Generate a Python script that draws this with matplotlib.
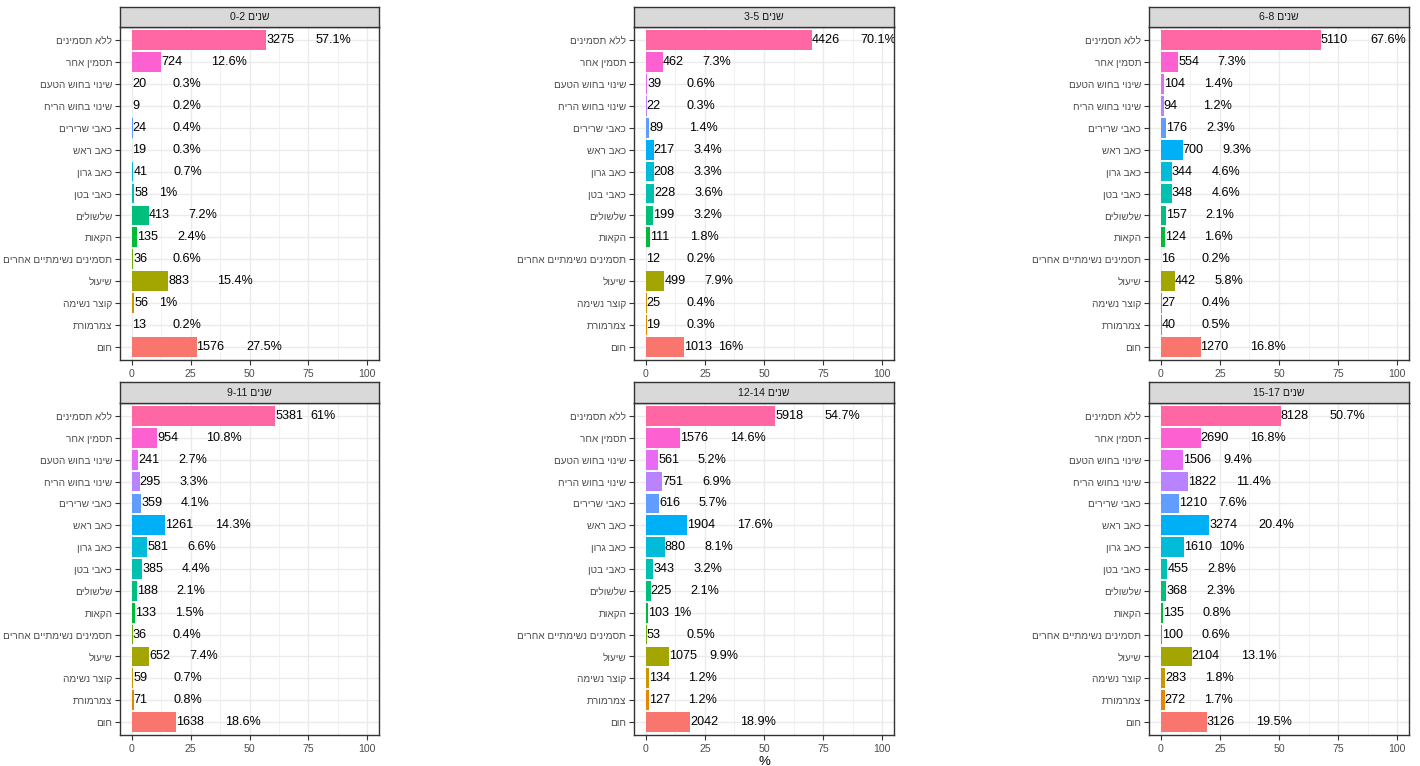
import matplotlib
matplotlib.use("Agg")
import matplotlib.pyplot as plt
from matplotlib.transforms import offset_copy

plt.rcParams['font.family'] = ['Liberation Sans', 'DejaVu Sans']

# ---- data ----
categories = ["ללא תסמינים", "תסמין אחר", "שינוי בחוש הטעם", "שינוי בחוש הריח",
              "כאבי שרירים", "כאב ראש", "כאב גרון", "כאבי בטן", "שלשולים", "הקאות",
              "תסמינים נשימתיים אחרים", "שיעול", "קוצר נשימה", "צמרמורת", "חום"]
age_groups = ["0-2", "3-5", "6-8", "9-11", "12-14", "15-17"]
age_word = "שנים"

counts_0_2 = [3275, 724, 20, 9, 24, 19, 41, 58, 413, 135, 36, 883, 56, 13, 1576]
pct_0_2 = [57.1, 12.6, 0.3, 0.2, 0.4, 0.3, 0.7, 1, 7.2, 2.4, 0.6, 15.4, 1, 0.2, 27.5]
counts_3_5 = [4426, 462, 39, 22, 89, 217, 208, 228, 199, 111, 12, 499, 25, 19, 1013]
pct_3_5 = [70.1, 7.3, 0.6, 0.3, 1.4, 3.4, 3.3, 3.6, 3.2, 1.8, 0.2, 7.9, 0.4, 0.3, 16]
counts_6_8 = [5110, 554, 104, 94, 176, 700, 344, 348, 157, 124, 16, 442, 27, 40, 1270]
pct_6_8 = [67.6, 7.3, 1.4, 1.2, 2.3, 9.3, 4.6, 4.6, 2.1, 1.6, 0.2, 5.8, 0.4, 0.5, 16.8]
counts_9_11 = [5381, 954, 241, 295, 359, 1261, 581, 385, 188, 133, 36, 652, 59, 71, 1638]
pct_9_11 = [61, 10.8, 2.7, 3.3, 4.1, 14.3, 6.6, 4.4, 2.1, 1.5, 0.4, 7.4, 0.7, 0.8, 18.6]
counts_12_14 = [5918, 1576, 561, 751, 616, 1904, 880, 343, 225, 103, 53, 1075, 134, 127, 2042]
pct_12_14 = [54.7, 14.6, 5.2, 6.9, 5.7, 17.6, 8.1, 3.2, 2.1, 1, 0.5, 9.9, 1.2, 1.2, 18.9]
counts_15_17 = [8128, 2690, 1506, 1822, 1210, 3274, 1610, 455, 368, 135, 100, 2104, 283, 272, 3126]
pct_15_17 = [50.7, 16.8, 9.4, 11.4, 7.6, 20.4, 10, 2.8, 2.3, 0.8, 0.6, 13.1, 1.8, 1.7, 19.5]

all_counts = [counts_0_2, counts_3_5, counts_6_8, counts_9_11, counts_12_14, counts_15_17]
all_pcts = [pct_0_2, pct_3_5, pct_6_8, pct_9_11, pct_12_14, pct_15_17]

# ggplot hue palette (top -> bottom order of categories)
colors = ["#FF67A4", "#FD61D1", "#E76BF3", "#B983FF", "#619CFF", "#00B0F6", "#00BCD8",
          "#00C0AF", "#00BF7D", "#00BA38", "#6BB100", "#A3A500", "#C99800", "#E58700", "#F8766D"]

x_ticks = [0, 25, 50, 75, 100]
x_minor = [12.5, 37.5, 62.5, 87.5]


def vis(s):
    """visual order for RTL Hebrew text"""
    return s[::-1]


W, H = 1420, 766
fig = plt.figure(figsize=(W / 100, H / 100), dpi=100)

col_left = [120, 634, 1149]
col_right = [379, 894, 1409]
row_panel = [(27, 360), (403, 735)]
row_strip = [(7, 27), (382, 403)]

n = len(categories)
ypos = list(range(n, 0, -1))

pct_texts = []
for k in range(6):
    r, c = divmod(k, 3)
    x0, x1 = col_left[c], col_right[c]
    yt, yb = row_panel[r]
    ax = fig.add_axes([x0 / W, 1 - yb / H, (x1 - x0) / W, (yb - yt) / H])
    ax.set_xlim(-5, 105)
    ax.set_ylim(0.4, n + 0.6)
    ax.set_xticks(x_ticks)
    ax.set_xticks(x_minor, minor=True)
    ax.set_yticks(ypos)
    ax.set_yticklabels([vis(s) for s in categories])
    ax.grid(which='major', color='#EBEBEB', lw=1.0)
    ax.grid(which='minor', axis='x', color='#EBEBEB', lw=0.5)
    ax.set_axisbelow(True)
    for sp in ax.spines.values():
        sp.set_color('#333333')
        sp.set_linewidth(1.0)
    ax.tick_params(axis='both', which='major', length=3.5, width=0.8, color='#333333',
                   labelcolor='#4D4D4D', labelsize=7.6, pad=2)
    ax.tick_params(axis='y', labelsize=7.2)
    ax.tick_params(axis='x', which='minor', length=0)
    ax.tick_params(axis='x', pad=3)

    pcts = all_pcts[k]
    cnts = all_counts[k]
    ax.barh(ypos, pcts, height=0.9, color=colors, edgecolor='none')
    for y, p, cnt in zip(ypos, pcts, cnts):
        ax.text(p, y, str(cnt), ha='left', va='center', fontsize=9.1, color='black',
                clip_on=True)
        t = ax.text(p, y, f"{p:g}%", ha='left', va='center', fontsize=9.1,
                    color='black', clip_on=True)
        pct_texts.append((ax, t))

    # strip
    st, sb = row_strip[r]
    sax = fig.add_axes([x0 / W, 1 - sb / H, (x1 - x0) / W, (sb - st) / H])
    sax.set_facecolor('#D9D9D9')
    sax.set_xticks([])
    sax.set_yticks([])
    for sp in sax.spines.values():
        sp.set_color('#333333')
        sp.set_linewidth(1.0)
    sax.text(0.5, 0.5, age_groups[k] + " " + vis(age_word), ha='center', va='center',
             fontsize=7.6, color='#1A1A1A', transform=sax.transAxes)

fig.text(764 / W, 1 - 762 / H, "%", ha='center', va='center', fontsize=9.5, color='black')

# shift percentage labels by ~1.38x their own width (ggplot hjust < 0)
fig.canvas.draw()
renderer = fig.canvas.get_renderer()
for ax, t in pct_texts:
    w = t.get_window_extent(renderer).width
    t.set_transform(offset_copy(ax.transData, fig=fig, x=1.38 * w, y=0, units='dots'))

fig.savefig("out.png", dpi=100)
